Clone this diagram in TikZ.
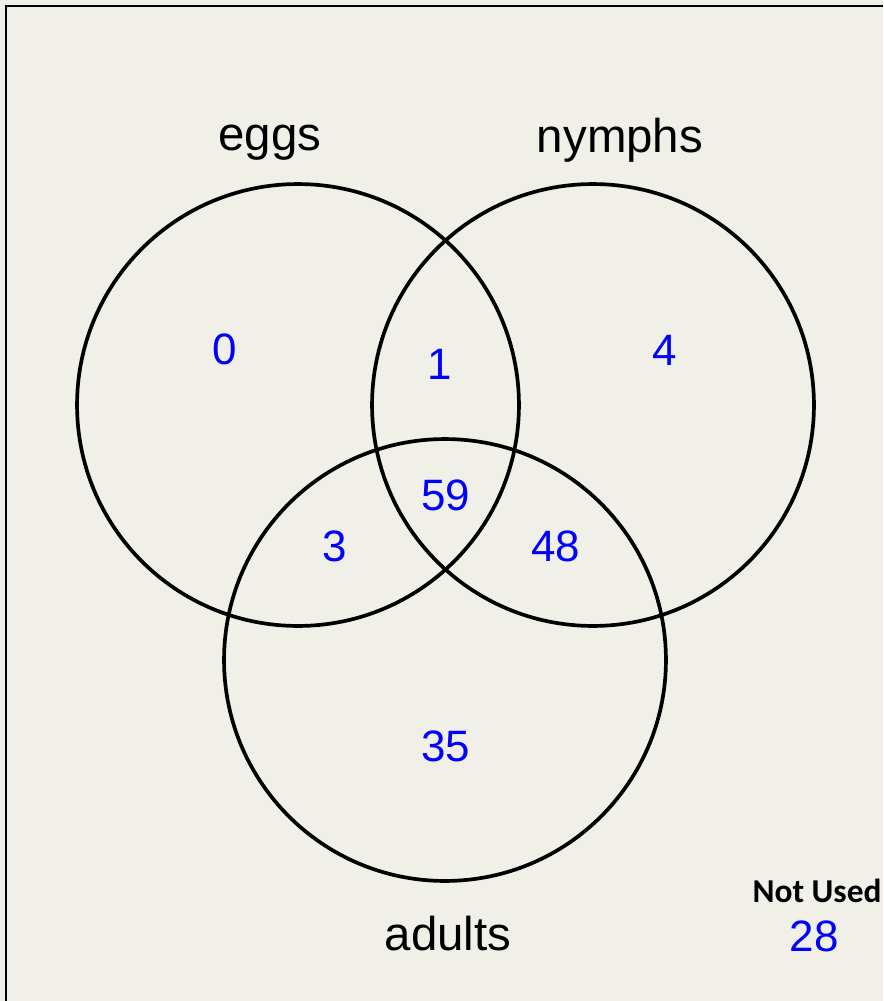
\documentclass[tikz,border=0pt]{standalone}
\usepackage{fontspec}
\setmainfont{Liberation Sans}
\newfontfamily\notusedfont{Carlito}
\definecolor{paper}{RGB}{240,239,232}
\definecolor{countblue}{RGB}{0,0,255}

\begin{document}
\begin{tikzpicture}[x=0.02cm, y=-0.02cm,
    setname/.style={anchor=base, font=\fontsize{27}{32}\selectfont},
    count/.style={anchor=base, text=countblue, font=\fontsize{25}{30}\selectfont},
    ring/.style={line width=2.1pt}]
    \fill [paper] (0,0) rectangle (883,1001);
    \useasboundingbox (0,0) rectangle (883,1001);
    \draw [line width=1.6pt] (6,1001) -- (6,6) -- (883,6);
    \coordinate (E) at (298,405);
    \coordinate (N) at (593,405);
    \coordinate (A) at (445,660);
    \draw [ring] (E) circle [radius=4.42cm];
    \draw [ring] (N) circle [radius=4.42cm];
    \draw [ring] (A) circle [radius=4.42cm];
    \node [setname] (eggs) at (270,150) {eggs};
    \node [setname] (nymphs) at (620,152) {nymphs};
    \node [setname] (adults) at (448,950) {adults};
    \node [count] (onlyE) at (225,364) {0};
    \node [count] (EN) at (440,379) {1};
    \node [count] (onlyN) at (665,365) {4};
    \node [count] (ENA) at (446,510) {59};
    \node [count] (EA) at (335,561) {3};
    \node [count] (NA) at (556,561) {48};
    \node [count] (onlyA) at (446,761) {35};
    \node [anchor=base, font=\notusedfont\bfseries\fontsize{19}{23}\selectfont] (notused) at (817,902) {Not Used};
    \node [count] (none) at (814,951) {28};
\end{tikzpicture}
\end{document}
